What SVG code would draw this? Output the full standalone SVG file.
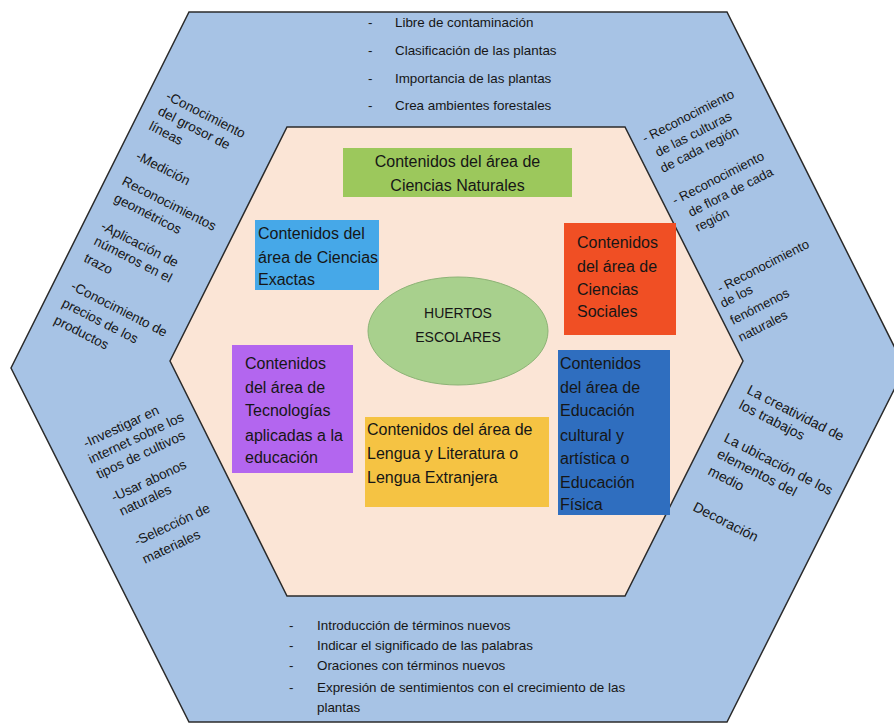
<svg xmlns="http://www.w3.org/2000/svg" width="894" height="724" viewBox="0 0 894 724">
<style>
.hex{stroke:#2b2b2b;stroke-width:1.5;stroke-linejoin:miter}
.t{font-family:"Liberation Sans",Arial,sans-serif;fill:#161616}
.lst{font-size:13.4px}
.side{font-size:13.5px}
.sr{font-size:13px}
.rl{font-size:14px}
.box{font-size:16px;fill:#161616}
.ell{font-size:14px}
</style>
<rect width="894" height="724" fill="#ffffff"/>
<g id="outer">
<polygon class="hex" points="189,12 727,12 905,368 727,722 189,722 11,368" fill="#a7c3e5"/>
</g>
<g id="inner">
<polygon class="hex" points="287,127 625,127 743,361 625,596 287,596 170,361" fill="#fbe5d6"/>
</g>
<g id="top-list" class="t lst">
<text x="368" y="27">-</text><text x="395" y="27">Libre de contaminación</text>
<text x="368" y="55">-</text><text x="395" y="55">Clasificación de las plantas</text>
<text x="368" y="83">-</text><text x="395" y="83">Importancia de las plantas</text>
<text x="368" y="110">-</text><text x="395" y="110">Crea ambientes forestales</text>
</g>
<g id="bottom-list" class="t lst">
<text x="289" y="630">-</text><text x="317" y="630">Introducción de términos nuevos</text>
<text x="289" y="650">-</text><text x="317" y="650">Indicar el significado de las palabras</text>
<text x="289" y="670">-</text><text x="317" y="670">Oraciones con términos nuevos</text>
<text x="289" y="692">-</text><text x="317" y="692">Expresión de sentimientos con el crecimiento de las</text>
<text x="317" y="712">plantas</text>
</g>
<g id="left-upper" class="t side">
<text transform="translate(165,99) rotate(27)">-Conocimiento</text>
<text transform="translate(157,114) rotate(27)">del grosor de</text>
<text transform="translate(148,129) rotate(27)">líneas</text>
<text transform="translate(135,159) rotate(27)">-Medición</text>
<text transform="translate(121,184) rotate(27)">Reconocimientos</text>
<text transform="translate(113,201) rotate(27)">geométricos</text>
<text transform="translate(100,229) rotate(27)">-Aplicación de</text>
<text transform="translate(93,244) rotate(27)">números en el</text>
<text transform="translate(83,261) rotate(27)">trazo</text>
<text transform="translate(70,289) rotate(27)">-Conocimiento de</text>
<text transform="translate(61,306) rotate(27)">precios de los</text>
<text transform="translate(53,323) rotate(27)">productos</text>
</g>
<g id="left-lower" class="t side">
<text transform="translate(86,448) rotate(-25)">-Investigar en</text>
<text transform="translate(91,464) rotate(-25)">internet sobre los</text>
<text transform="translate(99,479) rotate(-25)">tipos de cultivos</text>
<text transform="translate(114,502) rotate(-25)">-Usar abonos</text>
<text transform="translate(122,516) rotate(-25)">naturales</text>
<text transform="translate(137,546) rotate(-25)">-Selección de</text>
<text transform="translate(145,564) rotate(-25)">materiales</text>
</g>
<g id="right-upper" class="t sr">
<text transform="translate(645,143) rotate(-27)">- Reconocimiento</text>
<text transform="translate(658,157) rotate(-27)">de las culturas</text>
<text transform="translate(663,173) rotate(-27)">de cada región</text>
<text transform="translate(675,205) rotate(-27)">- Reconocimiento</text>
<text transform="translate(691,217) rotate(-27)">de flora de cada</text>
<text transform="translate(698,232) rotate(-27)">región</text>
<text transform="translate(720,293) rotate(-27)">- Reconocimiento</text>
<text transform="translate(723,308) rotate(-27)">de los</text>
<text transform="translate(733,325) rotate(-27)">fenómenos</text>
<text transform="translate(741,342) rotate(-27)">naturales</text>
</g>
<g id="right-lower" class="t rl">
<text transform="translate(746,393) rotate(27)">La creatividad de</text>
<text transform="translate(738,408) rotate(27)">los trabajos</text>
<text transform="translate(723,441) rotate(27)">La ubicación de los</text>
<text transform="translate(716,457) rotate(27)">elementos del</text>
<text transform="translate(707,474) rotate(27)">medio</text>
<text transform="translate(692,510) rotate(27)">Decoración</text>
</g>
<g id="ciencias-naturales">
<rect x="343" y="148" width="229" height="49" fill="#9cc85c"/>
<text class="t box" x="457.5" y="167" text-anchor="middle">Contenidos del área de</text>
<text class="t box" x="457.5" y="191" text-anchor="middle">Ciencias Naturales</text>
</g>
<g id="ciencias-exactas">
<rect x="255" y="220" width="124" height="70" fill="#46a8e8"/>
<text class="t box" x="258" y="239">Contenidos del</text>
<text class="t box" x="258" y="263">área de Ciencias</text>
<text class="t box" x="258" y="285">Exactas</text>
</g>
<g id="ciencias-sociales">
<rect x="564" y="223" width="112" height="112" fill="#f04f24"/>
<text class="t box" x="577" y="248">Contenidos</text>
<text class="t box" x="577" y="272">del área de</text>
<text class="t box" x="577" y="295">Ciencias</text>
<text class="t box" x="577" y="317">Sociales</text>
</g>
<g id="huertos">
<ellipse cx="458" cy="331" rx="90" ry="54" fill="#a8d08d" stroke="#8db376" stroke-width="1"/>
<text class="t ell" x="458" y="318" text-anchor="middle">HUERTOS</text>
<text class="t ell" x="458" y="342" text-anchor="middle">ESCOLARES</text>
</g>
<g id="tecnologias">
<rect x="232" y="345" width="121" height="128" fill="#b366ef"/>
<text class="t box" x="245" y="369">Contenidos</text>
<text class="t box" x="245" y="393">del área de</text>
<text class="t box" x="245" y="416">Tecnologías</text>
<text class="t box" x="245" y="441">aplicadas a la</text>
<text class="t box" x="245" y="463">educación</text>
</g>
<g id="lengua">
<rect x="365" y="417" width="184" height="90" fill="#f5c343"/>
<text class="t box" x="367" y="435">Contenidos del área de</text>
<text class="t box" x="367" y="459">Lengua y Literatura o</text>
<text class="t box" x="367" y="483">Lengua Extranjera</text>
</g>
<g id="educacion-cultural">
<rect x="558" y="350" width="112" height="165" fill="#2f6ebf"/>
<text class="t box" x="560" y="369" fill="#0e1733">Contenidos</text>
<text class="t box" x="560" y="393">del área de</text>
<text class="t box" x="560" y="416">Educación</text>
<text class="t box" x="560" y="441">cultural y</text>
<text class="t box" x="560" y="464">artística o</text>
<text class="t box" x="560" y="488">Educación</text>
<text class="t box" x="560" y="510">Física</text>
</g>
<g id="connectors"></g>
</svg>
